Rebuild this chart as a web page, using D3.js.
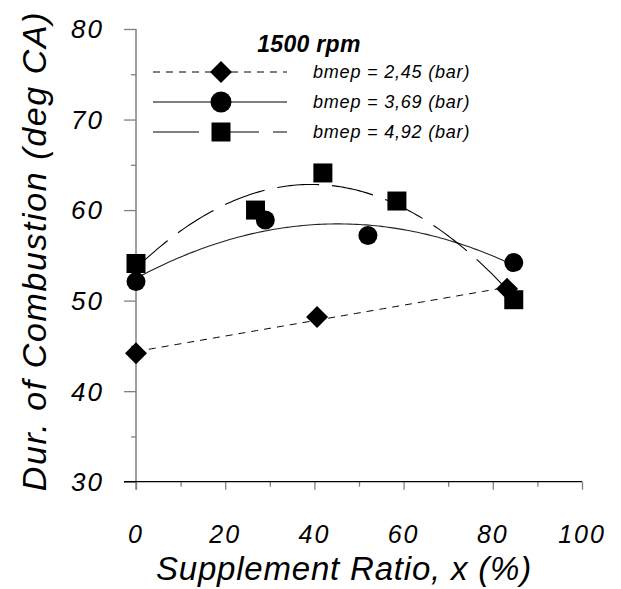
<!DOCTYPE html>
<html><head><meta charset="utf-8">
<script src="https://cdn.jsdelivr.net/npm/d3@7"></script>
<style>
html,body{margin:0;padding:0;background:#fff;}
text{font-family:"Liberation Sans",Arial,sans-serif;font-style:italic;fill:#000;}
</style></head>
<body>
<svg id="chart" width="621" height="589"></svg>
<script>
// ---- data ----
const seriesNames = ["bmep = 2,45 (bar)", "bmep = 3,69 (bar)", "bmep = 4,92 (bar)"];
const xD = [0, 40.6, 83.2];
const yD = [44.2, 48.2, 51.3];
const xC = [0, 29, 52, 84.7];
const yC = [52.1, 58.9, 57.2, 54.2];
const xS = [0, 26.8, 41.9, 58.5, 84.7];
const yS = [54.1, 60.0, 64.1, 61.0, 50.1];
const xTicks = [0, 20, 40, 60, 80, 100];
const yTicks = [30, 40, 50, 60, 70, 80];
const titleText = "1500 rpm";
const xTitle = "Supplement Ratio, x (%)";
const yTitle = "Dur. of Combustion (deg CA)";

const svg = d3.select("#chart");
const x = d3.scaleLinear().domain([0, 100]).range([136, 582]);
const y = d3.scaleLinear().domain([30, 80]).range([481.7, 29]);

// least squares polynomial fit (trendline, Excel style)
function polyfit(xs, ys, order) {
  const n = order + 1;
  const A = Array.from({length: n}, () => new Array(n + 1).fill(0));
  for (let r = 0; r < n; r++) {
    for (let c = 0; c < n; c++) A[r][c] = d3.sum(xs, v => Math.pow(v, r + c));
    A[r][n] = d3.sum(xs, (v, i) => ys[i] * Math.pow(v, r));
  }
  for (let i = 0; i < n; i++) {
    let p = i;
    for (let k = i + 1; k < n; k++) if (Math.abs(A[k][i]) > Math.abs(A[p][i])) p = k;
    [A[i], A[p]] = [A[p], A[i]];
    for (let k = i + 1; k < n; k++) {
      const f = A[k][i] / A[i][i];
      for (let c = i; c <= n; c++) A[k][c] -= f * A[i][c];
    }
  }
  const coef = new Array(n).fill(0);
  for (let i = n - 1; i >= 0; i--) {
    let s = A[i][n];
    for (let c = i + 1; c < n; c++) s -= A[i][c] * coef[c];
    coef[i] = s / A[i][i];
  }
  return v => coef.reduce((acc, cc, i) => acc + cc * Math.pow(v, i), 0);
}
function trend(xs, ys, order) {
  const f = polyfit(xs, ys, order);
  const [a, b] = d3.extent(xs);
  return d3.range(0, 121).map(i => { const v = a + (b - a) * i / 120; return [v, f(v)]; });
}
const line = d3.line().x(d => x(d[0])).y(d => y(d[1]));

// ---- axes ----
const gy = svg.append("g").attr("transform", `translate(${x(0)},0)`);
gy.call(d3.axisLeft(y).tickValues(yTicks).tickSize(12).tickSizeOuter(0).tickFormat(""));
gy.append("g").call(d3.axisLeft(y).tickValues([35, 45, 55, 65, 75]).tickSize(5).tickSizeOuter(0).tickFormat(""));
gy.selectAll(".domain").remove();
gy.selectAll("line").attr("stroke", "#808080").attr("stroke-width", 1.3);
gy.append("line").attr("x1", 0).attr("x2", 0).attr("y1", y(80)).attr("y2", y(30) + 8)
  .attr("stroke", "#808080").attr("stroke-width", 1.5);

const gx = svg.append("g").attr("transform", `translate(0,${y(30)})`);
gx.call(d3.axisBottom(x).tickValues(xTicks).tickSize(8).tickSizeOuter(0).tickFormat(""));
gx.append("g").call(d3.axisBottom(x).tickValues([10, 30, 50, 70, 90]).tickSize(5).tickSizeOuter(0).tickFormat(""));
gx.selectAll(".domain").remove();
gx.selectAll("line").attr("stroke", "#808080").attr("stroke-width", 1.3);
gx.append("line").attr("x1", x(0) - 12).attr("x2", x(100)).attr("y1", 0).attr("y2", 0)
  .attr("stroke", "#000").attr("stroke-width", 1.2);

// tick labels
svg.append("g").selectAll("text").data(yTicks).join("text")
  .attr("x", 104).attr("y", d => y(d)).attr("dy", "0.36em")
  .attr("text-anchor", "end").attr("font-size", 26).attr("letter-spacing", 2)
  .text(d => d);
svg.append("g").selectAll("text").data(xTicks).join("text")
  .attr("x", d => x(d)).attr("y", 543)
  .attr("text-anchor", "middle").attr("font-size", 25).attr("letter-spacing", 2)
  .text(d => d);

// axis titles
svg.append("text").attr("x", 344).attr("y", 580).attr("text-anchor", "middle")
  .attr("font-size", 33).attr("letter-spacing", 0.8).text(xTitle);
svg.append("text").attr("transform", `translate(46,251) rotate(-90)`).attr("text-anchor", "middle")
  .attr("font-size", 34).attr("letter-spacing", 1.6).text(yTitle);

// ---- trendlines ----
svg.append("path").attr("d", line(trend(xD, yD, 1))).attr("fill", "none")
  .attr("stroke", "#000").attr("stroke-width", 1).attr("stroke-dasharray", "7,6");
svg.append("path").attr("d", line(trend(xC, yC, 2))).attr("fill", "none")
  .attr("stroke", "#222").attr("stroke-width", 1.1);
svg.append("path").attr("d", line(trend(xS, yS, 2))).attr("fill", "none")
  .attr("stroke", "#000").attr("stroke-width", 1.1).attr("stroke-dasharray", "42,13");

// ---- markers ----
const diamondType = { draw(ctx) { ctx.moveTo(0, -11); ctx.lineTo(11, 0); ctx.lineTo(0, 11); ctx.lineTo(-11, 0); ctx.closePath(); } };
const squareType = { draw(ctx) { ctx.rect(-9.5, -9.5, 19, 19); } };
const symD = d3.symbol().type(diamondType);
const symS = d3.symbol().type(squareType);
function drawSeries(xs, ys, kind) {
  const pts = xs.map((v, i) => [v, ys[i]]);
  const g = svg.append("g");
  if (kind === "circle") {
    g.selectAll("circle").data(pts).join("circle")
      .attr("cx", d => x(d[0])).attr("cy", d => y(d[1])).attr("r", 9.5).attr("fill", "#000");
  } else {
    g.selectAll("path").data(pts).join("path")
      .attr("transform", d => `translate(${x(d[0])},${y(d[1])})`)
      .attr("d", kind === "diamond" ? symD : symS).attr("fill", "#000");
  }
}
drawSeries(xD, yD, "diamond");
drawSeries(xC, yC, "circle");
drawSeries(xS, yS, "square");

// ---- legend ----
svg.append("text").attr("x", 309).attr("y", 52).attr("text-anchor", "middle")
  .attr("font-size", 23).attr("font-weight", "bold").attr("letter-spacing", 0.3).text(titleText);
const legRows = [72, 102, 132];
const legDash = ["7,6", null, "46,14"];
const legKind = ["diamond", "circle", "square"];
legRows.forEach((ly, i) => {
  const l = svg.append("line").attr("x1", 153).attr("x2", 287).attr("y1", ly).attr("y2", ly)
    .attr("stroke", "#000").attr("stroke-width", 1);
  if (legDash[i]) l.attr("stroke-dasharray", legDash[i]);
  if (legKind[i] === "circle") {
    svg.append("circle").attr("cx", 221).attr("cy", ly).attr("r", 10.5).attr("fill", "#000");
  } else {
    svg.append("path").attr("transform", `translate(221,${ly})`)
      .attr("d", legKind[i] === "diamond" ? symD : symS).attr("fill", "#000");
  }
  svg.append("text").attr("x", 313).attr("y", ly).attr("dy", "0.36em")
    .attr("font-size", 18).attr("letter-spacing", 0.8).text(seriesNames[i]);
});
</script>
</body></html>
